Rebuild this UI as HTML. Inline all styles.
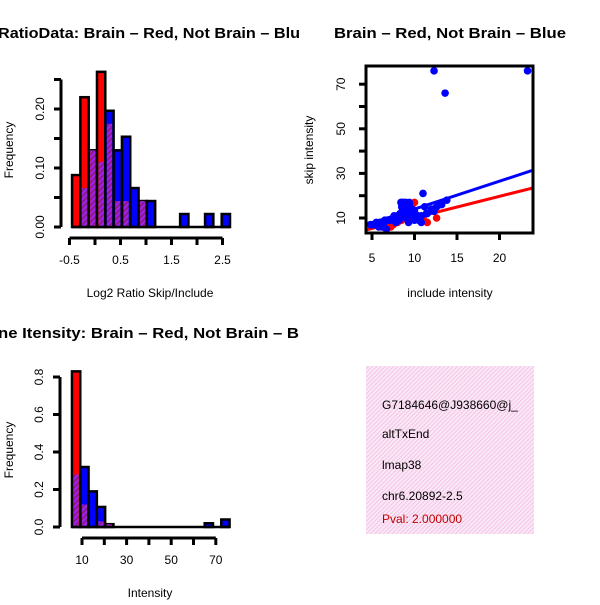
<!DOCTYPE html>
<html><head><meta charset="utf-8"><style>
body{margin:0;background:#fff;width:600px;height:600px;overflow:hidden}
text{font-family:"Liberation Sans",sans-serif}
</style></head><body>
<svg id="c" width="600" height="600" xmlns="http://www.w3.org/2000/svg">
<defs>
<pattern id="hatch" width="4" height="4" patternUnits="userSpaceOnUse" patternTransform="rotate(45)">
<rect width="4" height="4" fill="#a020f0"/><rect width="2" height="4" fill="#8b1a8b"/></pattern>
<pattern id="pink" width="3" height="3" patternUnits="userSpaceOnUse" patternTransform="rotate(45)">
<rect width="3" height="3" fill="#fbe8f6"/><rect width="1" height="3" fill="#f2c4e6"/></pattern>
</defs>
<g id="p1"></g>
<g id="p2"></g>
<g id="p3"></g>
<g id="p4">
<rect x="366" y="366" width="168" height="168" fill="url(#pink)"/>
<text x="382" y="409" font-size="12">G7184646@J938660@j_</text>
<text x="382" y="438" font-size="12">altTxEnd</text>
<text x="382" y="469" font-size="12">lmap38</text>
<text x="382" y="500" font-size="12">chr6.20892-2.5</text>
<text x="382" y="523" font-size="12" fill="#c00000">Pval: 2.000000</text>
</g>
<text x="-2" y="38" font-size="14.5" font-weight="bold" textLength="302" lengthAdjust="spacingAndGlyphs">RatioData: Brain – Red, Not Brain – Blu</text>
<text x="334" y="38" font-size="14.5" font-weight="bold" textLength="232" lengthAdjust="spacingAndGlyphs">Brain – Red, Not Brain – Blue</text>
<text x="-2" y="338" font-size="14.5" font-weight="bold" textLength="301" lengthAdjust="spacingAndGlyphs">ne Itensity: Brain – Red, Not Brain – B</text>
<text x="150" y="297" font-size="12" text-anchor="middle">Log2 Ratio Skip/Include</text>
<text x="450" y="297" font-size="12" text-anchor="middle">include intensity</text>
<text x="150" y="597" font-size="12" text-anchor="middle">Intensity</text>
<text transform="translate(13,150) rotate(-90)" font-size="12" text-anchor="middle">Frequency</text>
<text transform="translate(313,150) rotate(-90)" font-size="12" text-anchor="middle">skip intensity</text>
<text transform="translate(13,450) rotate(-90)" font-size="12" text-anchor="middle">Frequency</text>
</svg>
<script>
// Panel 1 data
const ratioBinStart = -0.45, ratioBinWidth = 0.163;
const ratioRed  = [0.088,0.22,0.13,0.263,0.175,0.044,0.044,0,0.044,0,0,0,0,0,0,0,0,0,0];
const ratioBlue = [0,0.066,0.13,0.11,0.197,0.13,0.153,0.066,0.044,0.044,0,0,0,0.022,0,0,0.022,0,0.022];
const ratioXTicks = [-0.5,0,0.5,1,1.5,2,2.5];
const ratioXLabels = ["-0.5","","0.5","","1.5","","2.5"];
const ratioYTicks = [0,0.05,0.1,0.15,0.2,0.25];
const ratioYLabels = ["0.00","","0.10","","0.20",""];
// Panel 3 data
const intBinStart = 5.5, intBinWidth = 3.72;
const intRed  = [0.83,0.12,0,0.03,0.015,0,0,0,0,0,0,0,0,0,0,0,0,0,0];
const intBlue = [0.28,0.32,0.19,0.107,0.015,0,0,0,0,0,0,0,0,0,0,0,0.02,0,0.04];
const intXTicks = [10,20,30,40,50,60,70];
const intXLabels = ["10","","30","","50","","70"];
const intYTicks = [0,0.2,0.4,0.6,0.8];
const intYLabels = ["0.0","0.2","0.4","0.6","0.8"];
// Panel 2 data
const blueX = [12.3,23.3,13.6,8.5,8.8,9,9.2,8.7,9.4,9.6,9.9,10.2,10.5,11,11.5,12,12.3,13,13.8,9,8.6,7.5,7,6.5,6,5.5,5,4.8,6.2,7.8,8.2,9.3,10,10.8,6.7,5.8,11.2,8,
  8.4,8.6,8.8,9.0,9.2,9.4,8.5,8.7,8.9,9.1,9.3,9.5,9.7,8.6,8.8,9.0,9.2,9.4,9.6,9.8,10.0,8.3,8.5,8.7,8.9,9.1,9.3,7.6,7.9,8.1,7.2,6.8,6.4,5.9,5.2,10.4,10.8,11.4,12.6,13.2];
const blueY = [76,76,66,17,16,15,14,13,17,12,11,10,9,21,12,14,13,16,18,10,12,10,9,9,8,8,7,7,6,8,9,8,9,8,5,6,15,11,
  17,17,17,17,16,16,15,15,15,15,15,14,14,14,14,14,13,13,13,13,13,12,12,12,12,12,11,11,10,10,9,9,8,8,7,11,11,12,15,16];
const redX = [5,5.5,6,6.5,7,7.5,8,8.5,9,9.5,10,11,11.5,12.6,9.8,7.2,6.2,10.5];
const redY = [7,7.5,8,7,8.5,7,8,9,10,9,17,10,8,10,14,6,6,9];
const blueFit = [1.5,1.25]; // intercept, slope
const redFit = [0.5,0.96];
const scXTicks = [5,10,15,20];
const scXLabels = ["5","10","15","20"];
const scYTicks = [10,20,30,40,50,60,70];
const scYLabels = ["10","","30","","50","","70"];

const NS="http://www.w3.org/2000/svg";
function mk(parent,tag,attrs){const e=document.createElementNS(NS,tag);for(const k in attrs)e.setAttribute(k,attrs[k]);parent.appendChild(e);return e;}

function yAxis(g,xPix,ticks,labels,ys,name){
  mk(g,'line',{x1:xPix,x2:xPix,y1:ys(ticks[ticks.length-1]),y2:ys(ticks[0]),stroke:'#000','stroke-width':3});
  ticks.forEach((t,i)=>{
    mk(g,'line',{x1:xPix-7,x2:xPix,y1:ys(t),y2:ys(t),stroke:'#000','stroke-width':3});
    if(labels[i]){const tx=mk(g,'text',{transform:`translate(${xPix-17},${ys(t)}) rotate(-90)`,'font-size':12,'text-anchor':'middle'});tx.textContent=labels[i];
    
    }
  });
}
function xAxis(g,yPix,ticks,labels,xs,name){
  mk(g,'line',{x1:xs(ticks[0]),x2:xs(ticks[ticks.length-1]),y1:yPix,y2:yPix,stroke:'#000','stroke-width':3});
  ticks.forEach((t,i)=>{
    mk(g,'line',{x1:xs(t),x2:xs(t),y1:yPix,y2:yPix+7,stroke:'#000','stroke-width':3});
    if(labels[i]){const tx=mk(g,'text',{x:xs(t),y:yPix+26,'font-size':12,'text-anchor':'middle'});tx.textContent=labels[i];
    
    }
  });
}
function hist(g,red,blue,start,w,xs,ys,name){
  for(let i=0;i<red.length;i++){
    const x0=xs(start+i*w),x1=xs(start+(i+1)*w);
    const r=red[i],b=blue[i],m=Math.min(r,b),mx=Math.max(r,b);
    if(mx<=0)continue;
    const outer=mk(g,'rect',{x:x0,y:ys(mx),width:x1-x0,height:ys(0)-ys(mx),fill:r>=b?'#ff0000':'#0000ff',stroke:'#000','stroke-width':2.5});
    
    
    if(m>0){const p=mk(g,'rect',{x:x0+1.5,y:ys(m),width:x1-x0-3,height:ys(0)-ys(m)-1,fill:'url(#hatch)'});
    
    }
  }
  mk(g,'line',{x1:xs(start),x2:xs(start+red.length*w),y1:ys(0),y2:ys(0),stroke:'#000','stroke-width':2.5});
}
// Panel 1
{const g=document.getElementById('p1');const xs=v=>95+51*v, ys=v=>227-590*v;
 hist(g,ratioRed,ratioBlue,ratioBinStart,ratioBinWidth,xs,ys,'ratio');
 yAxis(g,61,ratioYTicks,ratioYLabels,ys,'ratio');xAxis(g,238,ratioXTicks,ratioXLabels,xs,'ratio');}
// Panel 3
{const g=document.getElementById('p3');const xs=v=>82+2.23*(v-10), ys=v=>527-187.5*v;
 hist(g,intRed,intBlue,intBinStart,intBinWidth,xs,ys,'intensity');
 yAxis(g,60,intYTicks,intYLabels,ys,'intensity');xAxis(g,538,intXTicks,intXLabels,xs,'intensity');}
// Panel 2
{const g=document.getElementById('p2');const xs=v=>372+8.5*(v-5), ys=v=>218-2.23*(v-10);
 mk(g,'clipPath',{id:'clp'});mk(document.getElementById('clp'),'rect',{x:366,y:66,width:167,height:167});
 const pts=mk(g,'g',{'clip-path':'url(#clp)'});
 redX.forEach((x,i)=>{const c=mk(pts,'circle',{cx:xs(x),cy:ys(redY[i]),r:3.8,fill:'#ff0000'});
  });
 const xa=4.3,xb=24;
 const rl=mk(pts,'line',{x1:xs(xa),y1:ys(redFit[0]+redFit[1]*xa),x2:xs(xb),y2:ys(redFit[0]+redFit[1]*xb),stroke:'#ff0000','stroke-width':3});
 
 blueX.forEach((x,i)=>{const c=mk(pts,'circle',{cx:xs(x),cy:ys(blueY[i]),r:3.8,fill:'#0000ff'});
  });
 const bl=mk(pts,'line',{x1:xs(xa),y1:ys(blueFit[0]+blueFit[1]*xa),x2:xs(xb),y2:ys(blueFit[0]+blueFit[1]*xb),stroke:'#0000ff','stroke-width':3});
 
 const box=mk(g,'rect',{x:366,y:66,width:167,height:167,fill:'none',stroke:'#000','stroke-width':3});
 
 scYTicks.forEach((t,i)=>{mk(g,'line',{x1:359,x2:366,y1:ys(t),y2:ys(t),stroke:'#000','stroke-width':3});
  if(scYLabels[i]){const tx=mk(g,'text',{transform:`translate(345,${ys(t)}) rotate(-90)`,'font-size':12,'text-anchor':'middle'});tx.textContent=scYLabels[i];
  }});
 scXTicks.forEach((t,i)=>{mk(g,'line',{x1:xs(t),x2:xs(t),y1:233,y2:240,stroke:'#000','stroke-width':3});
  const tx=mk(g,'text',{x:xs(t),y:262,'font-size':12,'text-anchor':'middle'});tx.textContent=scXLabels[i];
  });}
</script>
</body></html>
